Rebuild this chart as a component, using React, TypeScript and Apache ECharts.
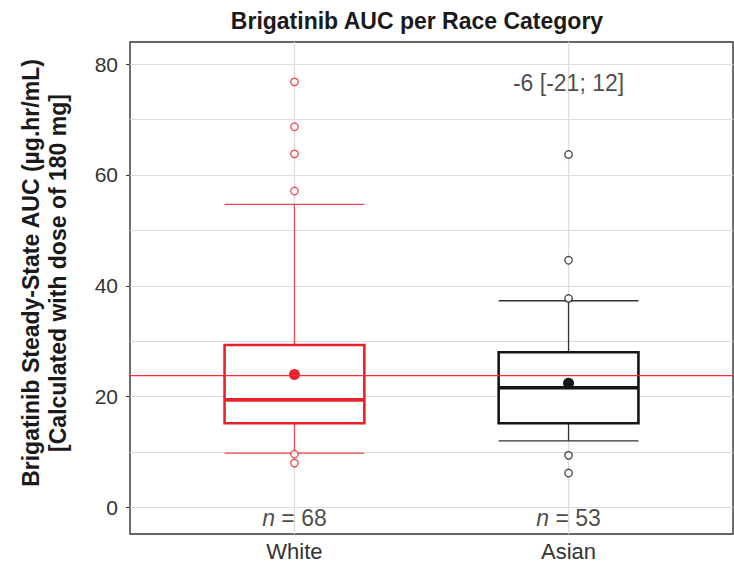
import React, { useEffect, useRef } from "react";
import * as echarts from "echarts";

const categories = ["White", "Asian"];
const positions = [1, 2];
const lowerWhisker = [9.8, 12.0];
const q1 = [15.2, 15.2];
const median = [19.4, 21.6];
const q3 = [29.3, 28.0];
const upperWhisker = [54.7, 37.3];
const means = [24.0, 22.4];
const outliersWhite = [76.8, 68.7, 63.8, 57.1, 9.6, 8.0];
const outliersAsian = [63.7, 44.6, 37.7, 9.4, 6.2];
const sampleSizes = [68, 53];
const referenceLine = 23.8;
const diffLabel = "-6 [-21; 12]";
const yTicks = [0, 20, 40, 60, 80];
const yMin = -4.8;
const yMax = 84;
const xMin = 0.4;
const xMax = 2.6;

const colors = ["#E8212B", "#151515"];
const whiskerColors = ["#EA4A50", "#333333"];
const FONT = "'Liberation Sans', Arial, Helvetica, sans-serif";

export default function App() {
  const ref = useRef<HTMLDivElement>(null);
  useEffect(() => {
    if (!ref.current) return;
    const chart = echarts.init(ref.current, null, { renderer: "svg" });
    const boxData = positions.map((p, i) => [
      p,
      lowerWhisker[i],
      q1[i],
      median[i],
      q3[i],
      upperWhisker[i],
      means[i],
    ]);
    const halfW = 0.255;
    const option: any = {
      animation: false,
      backgroundColor: "#ffffff",
      textStyle: { fontFamily: FONT },
      grid: { left: 130, right: 1, top: 42, bottom: 29, show: true, borderColor: "#333333", borderWidth: 1.4, backgroundColor: "transparent" },
      xAxis: {
        type: "value",
        min: xMin,
        max: xMax,
        axisLine: { show: false },
        splitLine: { show: false },
        axisTick: { show: true, customValues: positions, length: 4, lineStyle: { color: "#333" } },
        axisLabel: {
          customValues: positions,
          formatter: (v: number) => categories[Math.round(v) - 1] ?? "",
          fontSize: 22,
          color: "#333",
          fontFamily: FONT,
          margin: 6,
        },
      },
      yAxis: {
        type: "value",
        min: yMin,
        max: yMax,
        axisLine: { show: false },
        axisTick: { show: true, customValues: yTicks, length: 4, lineStyle: { color: "#333" } },
        axisLabel: { customValues: yTicks, fontSize: 21, color: "#333", fontFamily: FONT, margin: 12 },
        splitLine: { show: true, lineStyle: { color: "#DCDCDC", width: 1.2 } },
        minorTick: { show: false, splitNumber: 2 },
        minorSplitLine: { show: true, lineStyle: { color: "#DCDCDC", width: 1.2 } },
      },
      graphic: [
        {
          type: "text",
          x: 417,
          y: 21,
          style: {
            text: "Brigatinib AUC per Race Category",
            fontSize: 23,
            fontWeight: "bold",
            fill: "#1a1a1a",
            fontFamily: FONT,
            align: "center",
            verticalAlign: "middle",
          },
        },
        {
          type: "text",
          x: 44.5,
          y: 273,
          rotation: Math.PI / 2,
          style: {
            text: "Brigatinib Steady-State AUC (µg.hr/mL)\n[Calculated with dose of 180 mg]",
            fontSize: 23,
            fontWeight: "bold",
            lineHeight: 27,
            fill: "#1a1a1a",
            fontFamily: FONT,
            align: "center",
            verticalAlign: "middle",
          },
        },
      ],
      series: [
        {
          type: "custom",
          z: 2,
          data: boxData,
          renderItem: (params: any, api: any) => {
            const i = params.dataIndex;
            const x = api.value(0);
            const lo = api.value(1);
            const b1 = api.value(2);
            const md = api.value(3);
            const b3 = api.value(4);
            const hi = api.value(5);
            const mn = api.value(6);
            const c = colors[i];
            const wc = whiskerColors[i];
            const gTop = api.coord([x, yMax]);
            const gBot = api.coord([x, yMin]);
            const pLo = api.coord([x, lo]);
            const pHi = api.coord([x, hi]);
            const pQ1 = api.coord([x, b1]);
            const pQ3 = api.coord([x, b3]);
            const lt = api.coord([x - halfW, b3]);
            const rb = api.coord([x + halfW, b1]);
            const ml = api.coord([x - halfW, md]);
            const mr = api.coord([x + halfW, md]);
            const capLoL = api.coord([x - halfW, lo]);
            const capLoR = api.coord([x + halfW, lo]);
            const capHiL = api.coord([x - halfW, hi]);
            const capHiR = api.coord([x + halfW, hi]);
            const pm = api.coord([x, mn]);
            return {
              type: "group",
              children: [
                { type: "line", shape: { x1: gTop[0], y1: gTop[1], x2: gBot[0], y2: gBot[1] }, style: { stroke: "#DCDCDC", lineWidth: 1.2 } },
                { type: "line", shape: { x1: pQ3[0], y1: pQ3[1], x2: pHi[0], y2: pHi[1] }, style: { stroke: wc, lineWidth: 1.3 } },
                { type: "line", shape: { x1: pQ1[0], y1: pQ1[1], x2: pLo[0], y2: pLo[1] }, style: { stroke: wc, lineWidth: 1.3 } },
                { type: "line", shape: { x1: capHiL[0], y1: capHiL[1], x2: capHiR[0], y2: capHiR[1] }, style: { stroke: wc, lineWidth: 1.3 } },
                { type: "line", shape: { x1: capLoL[0], y1: capLoL[1], x2: capLoR[0], y2: capLoR[1] }, style: { stroke: wc, lineWidth: 1.3 } },
                { type: "rect", shape: { x: lt[0], y: lt[1], width: rb[0] - lt[0], height: rb[1] - lt[1] }, style: { fill: "#ffffff", stroke: c, lineWidth: 2.6 } },
                { type: "line", shape: { x1: ml[0], y1: ml[1], x2: mr[0], y2: mr[1] }, style: { stroke: c, lineWidth: 3.6 } },
                { type: "circle", shape: { cx: pm[0], cy: pm[1], r: 5.5 }, style: { fill: c } },
              ],
            };
          },
        },
        {
          type: "scatter",
          z: 3,
          symbol: "circle",
          symbolSize: 7.5,
          itemStyle: { color: "#ffffff", borderColor: colors[0], borderWidth: 1.3 },
          data: outliersWhite.map((v) => [positions[0], v]),
        },
        {
          type: "scatter",
          z: 3,
          symbol: "circle",
          symbolSize: 7.5,
          itemStyle: { color: "#ffffff", borderColor: colors[1], borderWidth: 1.3 },
          data: outliersAsian.map((v) => [positions[1], v]),
        },
        {
          type: "custom",
          z: 5,
          silent: true,
          data: [[xMin, referenceLine]],
          renderItem: (params: any, api: any) => {
            const v = api.value(1);
            const a = api.coord([xMin, v]);
            const b = api.coord([xMax, v]);
            return {
              type: "rect",
              shape: { x: a[0], y: a[1] - 0.65, width: b[0] - a[0], height: 1.3 },
              style: { fill: "#FF2A33", stroke: null },
            };
          },
        },
        {
          type: "scatter",
          z: 4,
          symbolSize: 0,
          silent: true,
          data: positions.map((p) => [p, -2.0]),
          label: {
            show: true,
            position: "inside",
            formatter: (p: any) => `{i|n} = ${sampleSizes[p.dataIndex]}`,
            fontSize: 23,
            color: "#1a1a1a",
            fontFamily: FONT,
            rich: {
              i: { fontStyle: "italic", fontSize: 23, color: "#1a1a1a", fontFamily: FONT },
            },
          },
        },
        {
          type: "scatter",
          z: 4,
          symbolSize: 0,
          silent: true,
          data: [[positions[1], 76.6]],
          label: {
            show: true,
            position: "inside",
            formatter: () => diffLabel,
            fontSize: 23,
            color: "#1a1a1a",
            fontFamily: FONT,
          },
        },
      ],
    };
    chart.setOption(option);
    return () => chart.dispose();
  }, []);
  return (
    <div
      ref={ref}
      style={{ position: "fixed", left: 0, top: 0, width: 734, height: 563, background: "#fff" }}
    />
  );
}
